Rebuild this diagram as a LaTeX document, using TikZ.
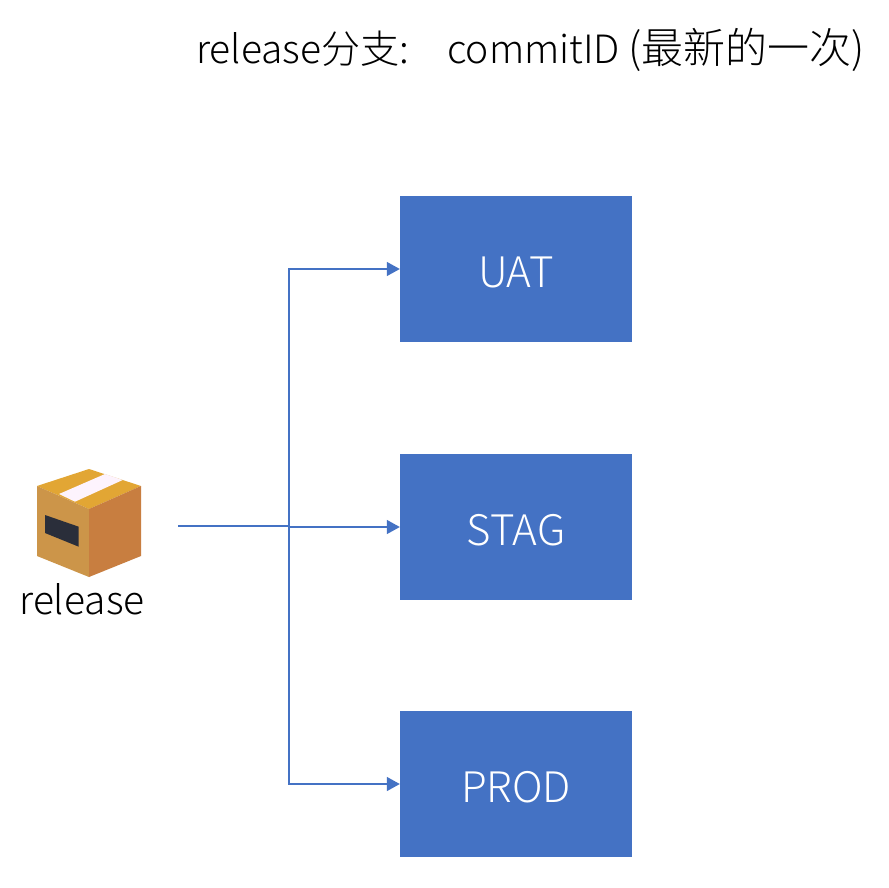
\documentclass[tikz,border=0pt]{standalone}
\usepackage{fontspec}
\setmainfont{Noto Sans CJK SC Light}
\usetikzlibrary{arrows.meta}
\definecolor{boxblue}{HTML}{4472C4}
\definecolor{lidc}{HTML}{E2A634}
\definecolor{tapec}{HTML}{FDF3FD}
\definecolor{leftc}{HTML}{CC9549}
\definecolor{rightc}{HTML}{C87E40}
\definecolor{slotc}{HTML}{2A2E3A}
\tikzset{
  env/.style={draw=none,fill=boxblue,text=white,minimum width=232pt,minimum height=146pt,inner sep=0pt,font=\fontsize{42}{42}\selectfont},
  conn/.style={draw=boxblue,line width=1.4pt,-{Triangle[length=13pt,width=14pt]}},
  lbl/.style={inner sep=0pt,text=black,font=\fontsize{39}{39}\selectfont}
}
\begin{document}
\begin{tikzpicture}[x=1pt,y=-1pt]
\useasboundingbox (0,0) rectangle (888,888);
\fill[white] (0,0) rectangle (888,888);
\node[lbl,anchor=base west] (title) at (196,63.5) {\makebox[251pt][l]{release分支:}\makebox[181pt][l]{commitID}{\fontsize{42}{42}\selectfont (最新的一次)}};
\node[env] (uat) at (516,269) {\raisebox{-18pt}[0pt][0pt]{UAT}};
\node[env] (stag) at (516,527) {\raisebox{-18pt}[0pt][0pt]{STAG}};
\node[env] (prod) at (516,784) {\raisebox{-18pt}[0pt][0pt]{PROD}};
% parcel icon
\fill[lidc] (37,486) -- (89,469) -- (141,486) -- (89,509) -- cycle;
\fill[tapec] (105,474) -- (122.7,480) -- (75,501.7) -- (59,494) -- cycle;
\fill[leftc] (37,486) -- (89,509) -- (89,577) -- (37,556) -- cycle;
\fill[rightc] (89,509) -- (141,486) -- (141,556) -- (89,577) -- cycle;
\fill[slotc] (45,515) -- (78.7,526.7) -- (78.7,546.7) -- (45,533) -- cycle;
\node[lbl,anchor=base] (rel) at (82,614) {release};
\coordinate (src) at (178,526);
\coordinate (trunk) at (289,526);
\draw[conn] (src) -- (trunk) |- (uat.west);
\draw[conn] (src) -- (trunk) |- (stag.west);
\draw[conn] (src) -- (trunk) |- (prod.west);
\end{tikzpicture}
\end{document}
